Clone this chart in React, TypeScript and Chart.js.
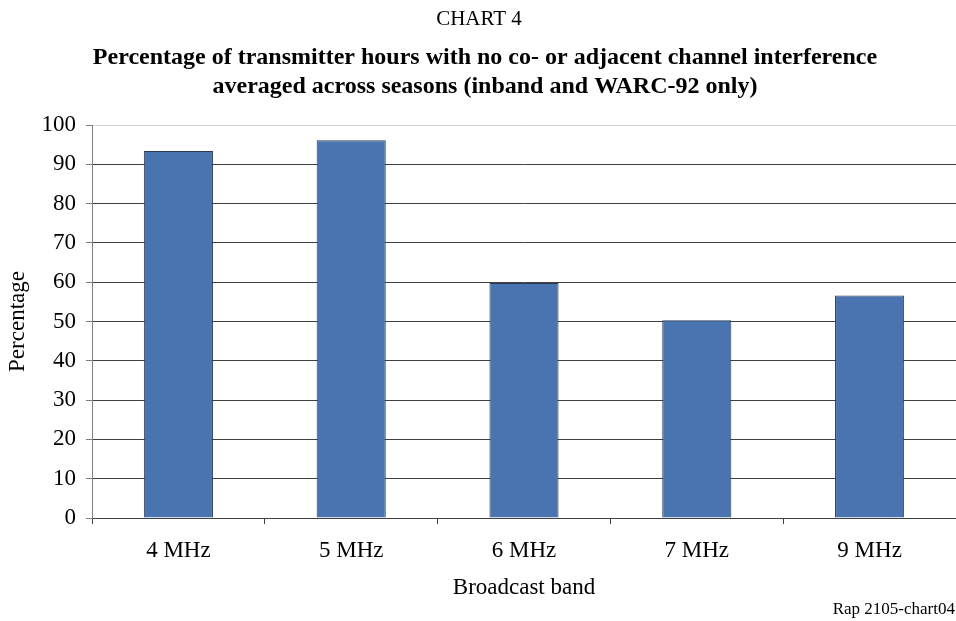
import React, { useEffect, useRef } from "react";
import { Chart, registerables } from "chart.js";

Chart.register(...registerables);

const categories = ["4 MHz", "5 MHz", "6 MHz", "7 MHz", "9 MHz"];
const percentages = [93.4, 96.1, 59.8, 50.3, 56.6];
const chartNumber = "CHART 4";
const titleLines = [
  "Percentage of transmitter hours with no co- or adjacent channel interference",
  "averaged across seasons (inband and WARC-92 only)",
];
const footerText = "Rap 2105-chart04";
const yAxisTitle = "Percentage";
const xAxisTitle = "Broadcast band";

const SERIF = "'Liberation Serif', 'Times New Roman', serif";

const headerFooter = {
  id: "headerFooter",
  afterDraw(chart: any) {
    const { ctx } = chart;
    ctx.save();
    ctx.fillStyle = "#000";
    ctx.textBaseline = "middle";
    ctx.textAlign = "center";
    ctx.font = `21px ${SERIF}`;
    ctx.fillText(chartNumber, 479, 19);
    ctx.font = `bold 24px ${SERIF}`;
    ctx.fillText(titleLines[0], 485, 58);
    ctx.fillText(titleLines[1], 485, 87);
    ctx.textAlign = "right";
    ctx.font = `17px ${SERIF}`;
    ctx.fillText(footerText, 955, 610);
    ctx.restore();
  },
};

export default function App() {
  const ref = useRef<HTMLCanvasElement>(null);
  useEffect(() => {
    document.body.style.margin = "0";
    const chart = new Chart(ref.current!, {
      type: "bar",
      data: {
        labels: categories,
        datasets: [
          {
            data: percentages,
            backgroundColor: "#4a74b0",
            borderColor: "#2a3b58",
            borderWidth: 1,
            categoryPercentage: 1,
            barPercentage: 0.4,
          },
        ],
      },
      options: {
        responsive: false,
        animation: false,
        layout: { padding: { top: 125, left: 0, right: 0, bottom: 19 } },
        plugins: {
          legend: { display: false },
          tooltip: { enabled: false },
          title: { display: false },
        },
        scales: {
          x: {
            offset: true,
            grid: {
              offset: true,
              drawOnChartArea: false,
              drawTicks: true,
              tickLength: 6,
              color: "#404040",
            },
            border: { color: "#404040", width: 1 },
            ticks: {
              color: "#000",
              font: { family: SERIF, size: 23 },
              padding: 13,
              maxRotation: 0,
            },
            title: {
              display: true,
              text: xAxisTitle,
              color: "#000",
              font: { family: SERIF, size: 23 },
              padding: { top: 0, bottom: 0 },
            },
            afterFit(scale: any) {
              scale.height = 84;
            },
          },
          y: {
            min: 0,
            max: 100,
            ticks: {
              stepSize: 10,
              color: "#000",
              font: { family: SERIF, size: 23 },
              padding: 10,
            },
            grid: {
              color: (c: any) => (c.tick && c.tick.value === 100 ? "#d0d0d0" : "#404040"),
              tickColor: "#808080",
              tickLength: 6,
              lineWidth: 1,
            },
            border: { color: "#808080", width: 1 },
            title: {
              display: true,
              text: yAxisTitle,
              color: "#000",
              font: { family: SERIF, size: 23 },
              padding: { top: 4, bottom: 0 },
            },
            afterFit(scale: any) {
              scale.width = 92;
            },
          },
        },
      },
      plugins: [headerFooter],
    });
    return () => chart.destroy();
  }, []);
  return (
    <div style={{ position: "absolute", left: 0, top: 0, width: 956, height: 621, background: "#fff" }}>
      <canvas ref={ref} width={956} height={621} />
    </div>
  );
}
